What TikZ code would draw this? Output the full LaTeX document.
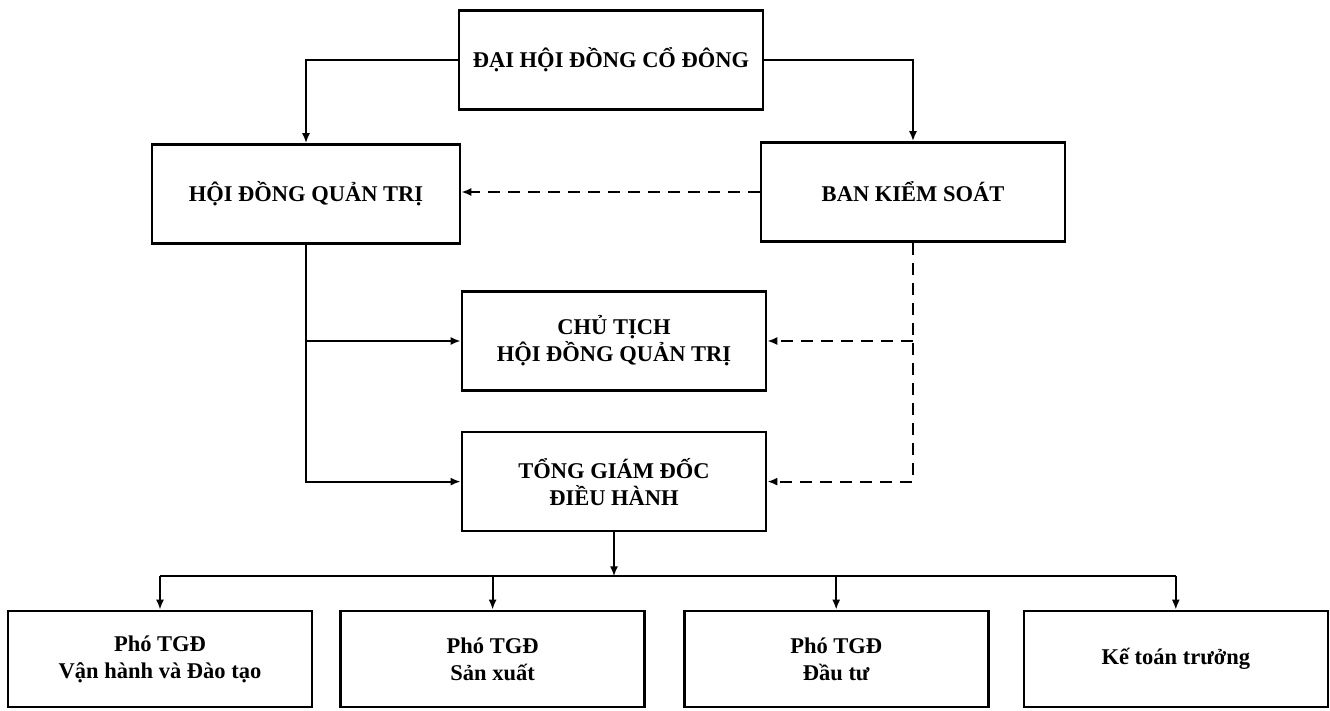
\documentclass[tikz,border=0pt]{standalone}
\usepackage{fontspec}
\setmainfont{Liberation Serif}
\usepackage{tikz}
\usetikzlibrary{arrows.meta,positioning,calc}

\begin{document}
\begin{tikzpicture}[
        x=1pt, y=-1pt,
        box/.style={rectangle, draw, line width=2.6pt, minimum width=304pt, minimum height=99pt,
            inner sep=0pt, align=center, font=\bfseries\fontsize{22.5}{27}\selectfont},
        unit/.style={box, minimum width=304pt, minimum height=96pt},
        arrow/.style={-{Latex[length=10pt,width=8pt]}, line width=2.1pt},
        ctrl/.style={arrow, dash pattern=on 12pt off 8pt}
    ]
        \useasboundingbox (0,0) rectangle (1330,710);

        % Top level
        \node[box] (dhd) at (611,60) {ĐẠI HỘI ĐỒNG CỔ ĐÔNG};
        \node[box, minimum width=308pt] (hdqt) at (306,194) {HỘI ĐỒNG QUẢN TRỊ};
        \node[box] (bks) at (913,192) {BAN KIỂM SOÁT};

        % Chair and CEO
        \node[box] (ct) at (614,341) {CHỦ TỊCH\\HỘI ĐỒNG QUẢN TRỊ};
        \node[box, below=39pt of ct] (tgd) {TỔNG GIÁM ĐỐC\\ĐIỀU HÀNH};

        % Deputies
        \node[unit] (pvh) at (160,659) {Phó TGĐ\\Vận hành và Đào tạo};
        \node[unit, right=26pt of pvh] (psx) {Phó TGĐ\\Sản xuất};
        \node[unit, right=37pt of psx] (pdt) {Phó TGĐ\\Đầu tư};
        \node[unit, right=33pt of pdt] (ktt) {Kế toán trưởng};

        % Connections
        \draw[arrow] (dhd.west) -| (hdqt.north);
        \draw[arrow] (dhd.east) -| (bks.north);
        \draw[ctrl] (bks.west) -- (bks.west -| hdqt.east);

        \draw[arrow] (hdqt.south) |- (tgd.west);
        \draw[arrow] (hdqt.south |- ct.west) -- (ct.west);
        \draw[ctrl] (bks.south) |- (tgd.east);
        \draw[ctrl] (bks.south |- ct.east) -- (ct.east);

        \coordinate[below=44pt of tgd.south] (bus);
        \draw[arrow] (tgd.south) -- (bus);
        \draw[line width=2.1pt] (pvh.north |- bus) -- (ktt.north |- bus);
        \foreach \u in {pvh,psx,pdt,ktt}
            \draw[arrow] (\u.north |- bus) -- (\u.north);

    \end{tikzpicture}
\end{document}
